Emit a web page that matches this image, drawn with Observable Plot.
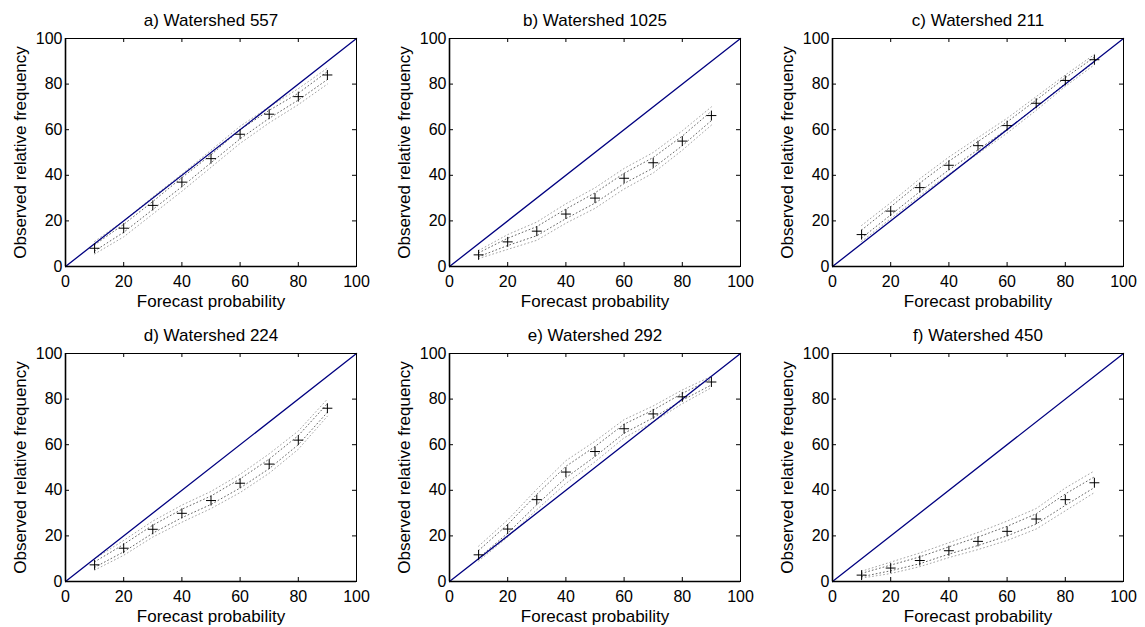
<!DOCTYPE html>
<html><head><meta charset="utf-8">
<script src="https://cdn.jsdelivr.net/npm/d3@7"></script>
<script src="https://cdn.jsdelivr.net/npm/@observablehq/plot@0.6"></script>
<style>
body{margin:0;background:#fff;}
#wrap{position:relative;width:1145px;height:627px;overflow:hidden;}
#wrap svg{position:absolute;}
</style>
</head><body><div id="wrap"></div>
<script>
// ---- data ----
const probs = [10, 20, 30, 40, 50, 60, 70, 80, 90];
const tickVals = [0, 20, 40, 60, 80, 100];
const diag = [0, 100];
const xLabel = "Forecast probability";
const yLabel = "Observed relative frequency";
const titles = ["a) Watershed 557", "b) Watershed 1025", "c) Watershed 211",
                "d) Watershed 224", "e) Watershed 292", "f) Watershed 450"];

const obs557 = [8, 16.8, 26.8, 37, 47.3, 58, 66.8, 74.5, 84];
const lo557  = [5.5, 13, 23, 33, 43.5, 54, 63, 71, 80];
const hi557  = [11, 20, 30.5, 40.5, 51, 61.5, 70, 78, 87];
const lo557i = [6.8, 15, 25, 35, 45.5, 56, 65, 73, 82];
const hi557i = [9.5, 18.5, 28.5, 39, 49, 60, 68.5, 76, 85.5];

const obs1025 = [5.1, 10.8, 15.5, 23, 30, 38.7, 45.5, 55, 66.2];
const lo1025  = [3.5, 7.5, 11.5, 19, 25.5, 34, 41, 51, 62];
const hi1025  = [7, 14, 19.5, 27.5, 34.5, 43, 50, 59.5, 70];
const lo1025i = [4.3, 9.2, 13.5, 21, 27.8, 36.4, 43.2, 53, 64];
const hi1025i = [6, 12.4, 17.5, 25.2, 32.3, 40.9, 47.8, 57.2, 68.1];

const obs211 = [14, 24.3, 34.6, 44.4, 53, 61.8, 71.6, 81.6, 90.7];
const lo211  = [11, 21, 31, 40.5, 49.5, 58.5, 68.5, 79, 88.5];
const hi211  = [18, 28, 38.5, 48, 56.5, 65, 74.5, 84, 93];
const lo211i = [12.5, 22.6, 32.8, 42.4, 51.2, 60.2, 70, 80.3, 89.6];
const hi211i = [16, 26.2, 36.6, 46.2, 54.8, 63.4, 73, 82.8, 91.8];

const obs224 = [7.3, 14.6, 22.9, 29.9, 35.5, 43.1, 51.5, 62, 76];
const lo224  = [5, 11.5, 19.5, 26, 32, 39, 47.5, 58, 72.5];
const hi224  = [10, 18, 26.5, 33.5, 39.5, 47, 56, 66, 80];
const lo224i = [6.2, 13, 21.2, 28, 33.8, 41, 49.5, 60, 74.2];
const hi224i = [8.6, 16.3, 24.7, 31.7, 37.5, 45, 53.7, 64, 78];

const obs292 = [11.7, 23, 35.9, 48, 57, 67, 73.5, 81, 87.5];
const lo292  = [9, 19.5, 31.5, 43, 52.5, 63, 70, 78, 85];
const hi292  = [15.5, 27, 40.5, 53, 61.5, 71, 77, 84, 90];
const lo292i = [10.3, 21.2, 33.7, 45.5, 54.8, 65, 71.8, 79.5, 86.2];
const hi292i = [13.6, 25, 38.2, 50.5, 59.2, 69, 75.2, 82.5, 88.8];

const obs450 = [2.8, 5.9, 9.2, 13.5, 17.6, 22, 27.4, 35.9, 43.3];
const lo450  = [1.5, 3.5, 6.5, 10.5, 14, 18, 23, 31, 39];
const hi450  = [4.5, 8.5, 12.5, 17, 21.5, 26.5, 32, 41, 48.5];
const lo450i = [2.1, 4.7, 7.8, 12, 15.8, 20, 25.2, 33.4, 41.2];
const hi450i = [3.6, 7.2, 10.8, 15.2, 19.5, 24.2, 29.7, 38.4, 45.9];

// ---- layout ----
const W = 291, H = 228, ML = 65, MR = 10, MT = 38, MB = 45;
const panels = [
  {title: titles[0], obs: obs557, bands: [lo557, hi557, lo557i, hi557i], left: 0, top: 0},
  {title: titles[1], obs: obs1025, bands: [lo1025, hi1025, lo1025i, hi1025i], left: 384, top: 0},
  {title: titles[2], obs: obs211, bands: [lo211, hi211, lo211i, hi211i], left: 767, top: 0},
  {title: titles[3], obs: obs224, bands: [lo224, hi224, lo224i, hi224i], left: 0, top: 315},
  {title: titles[4], obs: obs292, bands: [lo292, hi292, lo292i, hi292i], left: 384, top: 315},
  {title: titles[5], obs: obs450, bands: [lo450, hi450, lo450i, hi450i], left: 767, top: 315}
];
const bandColors = ["#9a9a9a", "#9a9a9a", "#555555", "#555555"];

const wrap = document.getElementById("wrap");
for (const p of panels) {
  const pts = probs.map((x, i) => ({x, y: p.obs[i]}));
  const bandMarks = p.bands.map((arr, k) =>
    Plot.line(probs.map((x, i) => ({x, y: arr[i]})), {
      x: "x", y: "y", stroke: bandColors[k], strokeWidth: 0.9, strokeDasharray: "0.9,2.8"
    }));
  const svg = Plot.plot({
    width: W + ML + MR, height: H + MT + MB,
    marginLeft: ML, marginRight: MR, marginTop: MT, marginBottom: MB,
    style: {background: "transparent", overflow: "visible", color: "black",
            fontFamily: "'Liberation Sans', Arial, Helvetica, sans-serif", fontSize: "16px"},
    x: {domain: [0, 100]},
    y: {domain: [0, 100]},
    marks: [
      ...bandMarks,
      Plot.line(diag, {x: d => d, y: d => d, stroke: "#000080", strokeWidth: 1.3}),
      Plot.dot(pts, {x: "x", y: "y", symbol: "plus", r: 3.3, stroke: "black", strokeWidth: 1}),
      Plot.frame({stroke: "black", strokeWidth: 1}),
      Plot.ruleY([0], {stroke: "black", strokeWidth: 1.6}),
      Plot.ruleX([0], {stroke: "black", strokeWidth: 1.6}),
      Plot.tickX(tickVals, {x: d => d, insetTop: H - 4, stroke: "black"}),
      Plot.tickX(tickVals, {x: d => d, insetBottom: H - 4, stroke: "black"}),
      Plot.tickY(tickVals, {y: d => d, insetRight: W - 4, stroke: "black"}),
      Plot.tickY(tickVals, {y: d => d, insetLeft: W - 4, stroke: "black"}),
      Plot.axisX(tickVals, {tickSize: 0, tickPadding: 9, label: null, fontSize: 16}),
      Plot.axisY(tickVals, {tickSize: 0, tickPadding: 3, label: null, fontSize: 16}),
      Plot.text([p.title], {text: d => d, frameAnchor: "top", dy: -13, lineAnchor: "bottom", textAnchor: "middle", fontSize: 17}),
      Plot.text([xLabel], {text: d => d, frameAnchor: "bottom", dy: 40, lineAnchor: "bottom", textAnchor: "middle", fontSize: 17}),
      Plot.text([yLabel], {text: d => d, frameAnchor: "left", dx: -40, rotate: -90, lineAnchor: "bottom", textAnchor: "middle", fontSize: 17})
    ]
  });
  svg.style.left = p.left + "px";
  svg.style.top = p.top + "px";
  wrap.appendChild(svg);
}
</script>
</body></html>
